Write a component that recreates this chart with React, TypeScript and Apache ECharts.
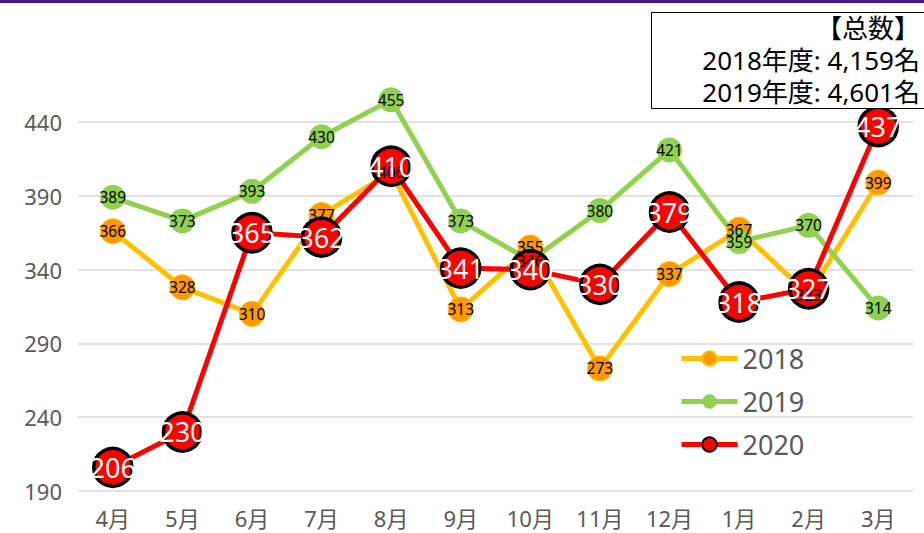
import React, { useEffect, useRef } from "react";
import * as echarts from "echarts";

const months = ["4月", "5月", "6月", "7月", "8月", "9月", "10月", "11月", "12月", "1月", "2月", "3月"];
const data2018 = [366, 328, 310, 377, 406, 313, 355, 273, 337, 367, 323, 399];
const data2019 = [389, 373, 393, 430, 455, 373, 346, 380, 421, 359, 370, 314];
const data2020 = [206, 230, 365, 362, 410, 341, 340, 330, 379, 318, 327, 437];
const totalLines = ["【总数】", "2018年度: 4,159名", "2019年度: 4,601名"];

const FONT = "'Noto Sans', 'Noto Sans CJK JP', sans-serif";

export default function App() {
  const ref = useRef<HTMLDivElement>(null);
  useEffect(() => {
    if (!ref.current) return;
    const chart = echarts.init(ref.current, undefined, { renderer: "svg" });
    const smallLabel = {
      show: true,
      position: "inside",
      color: "#000",
      fontSize: 15.5,
      fontFamily: FONT,
    };
    chart.setOption({
      animation: false,
      textStyle: { fontFamily: FONT },
      grid: { left: 78, right: 11, top: 122, bottom: 42 },
      xAxis: {
        type: "category",
        data: months,
        boundaryGap: true,
        axisLine: { show: false },
        axisTick: { show: false },
        axisLabel: { color: "#595959", fontSize: 22, margin: 16, fontFamily: FONT },
      },
      yAxis: {
        type: "value",
        min: 190,
        max: 440,
        interval: 50,
        axisLine: { show: false },
        axisTick: { show: false },
        axisLabel: { color: "#595959", fontSize: 22, margin: 16, fontFamily: FONT },
        splitLine: { lineStyle: { color: "#D9D9D9", width: 1.5 } },
      },
      legend: {
        orient: "vertical",
        left: 674,
        top: 340,
        itemWidth: 56,
        itemHeight: 18,
        itemGap: 16,
        lineStyle: { width: 5 },
        textStyle: { color: "#595959", fontSize: 27, fontFamily: FONT },
        data: ["2018", "2019", "2020"],
      },
      series: [
        {
          name: "2018",
          type: "line",
          data: data2018,
          clip: false,
          symbol: "circle",
          symbolSize: 25,
          lineStyle: { color: "#FFC000", width: 5 },
          itemStyle: { color: "#FF9900", borderColor: "#FFC000", borderWidth: 1 },
          label: smallLabel,
        },
        {
          name: "2019",
          type: "line",
          data: data2019,
          clip: false,
          symbol: "circle",
          symbolSize: 25,
          lineStyle: { color: "#92D050", width: 5 },
          itemStyle: { color: "#92D050" },
          label: smallLabel,
        },
        {
          name: "2020",
          type: "line",
          data: data2020,
          clip: false,
          symbol: "circle",
          symbolSize: 38,
          lineStyle: { color: "#FF0000", width: 5 },
          itemStyle: { color: "#FF0000", borderColor: "#000", borderWidth: 3.5 },
          label: {
            show: true,
            position: "inside",
            color: "#fff",
            fontSize: 27,
            fontFamily: FONT,
          },
        },
      ],
      graphic: [
        {
          type: "rect",
          left: 0,
          top: 0,
          shape: { width: 924, height: 3 },
          style: { fill: "#4B1785" },
        },
        {
          type: "rect",
          x: 651.5,
          y: 12.5,
          shape: { width: 290, height: 96 },
          style: { fill: "#fff", stroke: "#000", lineWidth: 1 },
          z: 100,
        },
        ...totalLines.map((t, i) => ({
          type: "text",
          x: 920,
          y: 28 + i * 32,
          z: 101,
          style: {
            text: t,
            fill: "#000",
            font: `26px ${FONT}`,
            align: "right",
            verticalAlign: "middle",
          },
        })),
      ],
    });
    return () => chart.dispose();
  }, []);
  return (
    <div
      ref={ref}
      style={{ position: "absolute", left: 0, top: 0, width: 924, height: 533, background: "#fff" }}
    />
  );
}
